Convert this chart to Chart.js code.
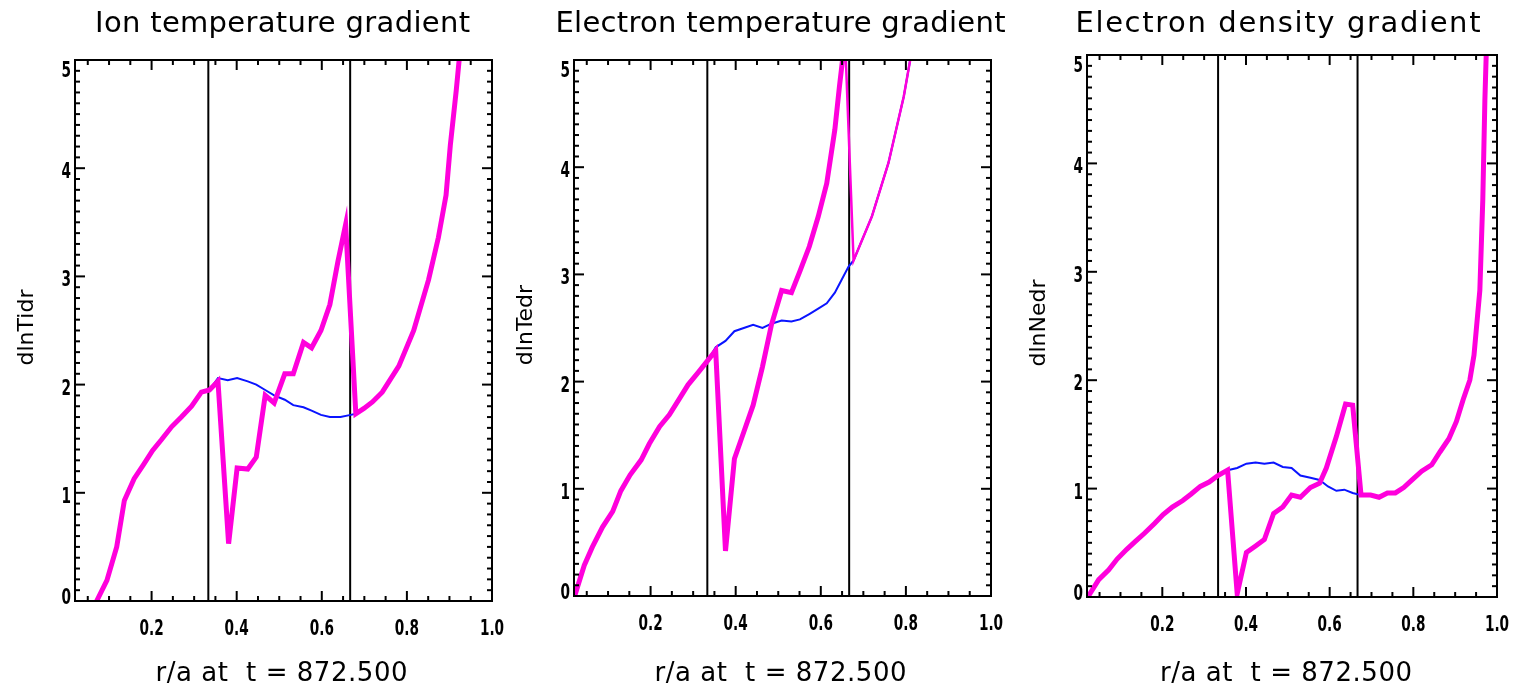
<!DOCTYPE html>
<html>
<head>
<meta charset="utf-8">
<title>Gradients at t = 872.500</title>
<script src="https://cdn.jsdelivr.net/npm/chart.js@4.4.0/dist/chart.umd.min.js"></script>
<style>
  body { margin: 0; background: #fff; width: 1516px; height: 687px; overflow: hidden; position: relative; }
  canvas { position: absolute; top: 0; }
</style>
</head>
<body>
<canvas id="c1" width="510" height="687" style="left:0px"></canvas>
<canvas id="c2" width="500" height="687" style="left:510px"></canvas>
<canvas id="c3" width="506" height="687" style="left:1010px"></canvas>
<script>
// text
let titles = ["Ion temperature gradient", "Electron temperature gradient", "Electron density gradient"];
let yTitles = ["dlnTidr", "dlnTedr", "dlnNedr"];
let xTitle = "r/a at  t = 872.500";

// axes
let xMin = 0.02, xMax = 1.0;
let yMin = 0, yMax = 5;
let xTicks = [0.2, 0.4, 0.6, 0.8, 1.0];
let xTickLabels = ["0.2", "0.4", "0.6", "0.8", "1.0"];
let yTicks = [0, 1, 2, 3, 4, 5];
let yTickLabels = ["0", "1", "2", "3", "4", "5"];
let vLines = [1 / 3, 2 / 3];

// ion temperature gradient
let ionX = [0.045, 0.071, 0.095, 0.118, 0.136, 0.159, 0.181, 0.202, 0.223, 0.247, 0.270, 0.294, 0.317, 0.336, 0.356, 0.381, 0.401, 0.426, 0.446, 0.467, 0.488, 0.513, 0.533, 0.557, 0.576, 0.598, 0.619, 0.638, 0.656, 0.680, 0.699, 0.719, 0.742, 0.781, 0.816, 0.851, 0.874, 0.892, 0.902, 0.916, 0.935];
let ionY = [-0.25, 0.0, 0.19, 0.50, 0.93, 1.13, 1.26, 1.39, 1.49, 1.61, 1.70, 1.80, 1.93, 1.95, 2.03, 0.53, 1.23, 1.22, 1.33, 1.90, 1.83, 2.10, 2.10, 2.39, 2.34, 2.50, 2.74, 3.14, 3.48, 1.73, 1.78, 1.84, 1.93, 2.17, 2.50, 2.97, 3.36, 3.75, 4.21, 4.72, 5.5];
let ionBlueX = [0.336, 0.356, 0.379, 0.401, 0.426, 0.446, 0.467, 0.488, 0.513, 0.533, 0.557, 0.576, 0.598, 0.619, 0.644, 0.668, 0.680];
let ionBlueY = [1.95, 2.06, 2.04, 2.06, 2.03, 2.00, 1.95, 1.90, 1.86, 1.81, 1.79, 1.76, 1.72, 1.70, 1.70, 1.72, 1.73];

// electron temperature gradient
let teX = [0.02, 0.044, 0.063, 0.087, 0.111, 0.130, 0.152, 0.178, 0.197, 0.221, 0.244, 0.266, 0.288, 0.313, 0.335, 0.353, 0.376, 0.397, 0.419, 0.441, 0.463, 0.484, 0.508, 0.531, 0.551, 0.573, 0.594, 0.614, 0.633, 0.644, 0.657];
let teY = [-0.02, 0.285, 0.456, 0.643, 0.79, 0.98, 1.13, 1.27, 1.42, 1.58, 1.69, 1.83, 1.97, 2.09, 2.20, 2.29, 0.42, 1.28, 1.53, 1.78, 2.14, 2.53, 2.85, 2.83, 3.03, 3.26, 3.54, 3.85, 4.35, 4.76, 5.2];
let teThinX = [0.657, 0.677, 0.720, 0.759, 0.795, 0.830];
let teThinY = [5.2, 3.13, 3.54, 4.04, 4.66, 5.45];
let teBlueX = [0.335, 0.353, 0.376, 0.397, 0.419, 0.441, 0.463, 0.484, 0.508, 0.531, 0.551, 0.573, 0.594, 0.614, 0.633, 0.649, 0.665, 0.677, 0.720, 0.759, 0.795, 0.830];
let teBlueY = [2.20, 2.32, 2.38, 2.47, 2.50, 2.53, 2.50, 2.54, 2.57, 2.56, 2.58, 2.63, 2.68, 2.73, 2.83, 2.95, 3.07, 3.13, 3.54, 4.04, 4.66, 5.45];

// electron density gradient
let neX = [0.022, 0.048, 0.072, 0.092, 0.115, 0.135, 0.158, 0.182, 0.202, 0.224, 0.249, 0.269, 0.291, 0.312, 0.333, 0.356, 0.379, 0.401, 0.423, 0.444, 0.466, 0.488, 0.509, 0.530, 0.554, 0.576, 0.592, 0.616, 0.638, 0.655, 0.675, 0.698, 0.718, 0.738, 0.757, 0.777, 0.797, 0.820, 0.844, 0.864, 0.885, 0.903, 0.919, 0.935, 0.945, 0.959, 0.966, 0.971, 0.978];
let neY = [0.0, 0.16, 0.25, 0.35, 0.44, 0.51, 0.59, 0.68, 0.76, 0.83, 0.89, 0.95, 1.02, 1.06, 1.12, 1.17, 0.03, 0.41, 0.47, 0.53, 0.77, 0.83, 0.94, 0.92, 1.01, 1.05, 1.19, 1.48, 1.78, 1.77, 0.94, 0.94, 0.92, 0.96, 0.96, 1.01, 1.08, 1.16, 1.22, 1.34, 1.46, 1.62, 1.82, 2.0, 2.23, 2.83, 3.66, 4.58, 5.5];
let neBlueX = [0.356, 0.379, 0.401, 0.423, 0.444, 0.466, 0.488, 0.509, 0.530, 0.554, 0.576, 0.596, 0.616, 0.635, 0.655, 0.675];
let neBlueY = [1.17, 1.19, 1.23, 1.24, 1.23, 1.24, 1.20, 1.19, 1.12, 1.10, 1.08, 1.02, 0.98, 0.99, 0.96, 0.94];

let pink = "#ff00dc";
let blue = "#0a14ff";

function pts(xs, ys){
  let out = [];
  for(let i = 0; i < xs.length; i++){
    out.push({x: xs[i], y: ys[i]});
  }
  return out;
}

function line(xs, ys, color, width){
  return {data: pts(xs, ys), borderColor: color, borderWidth: width, clip: 0};
}

function vLineSets(){
  return vLines.map(function(v){
    return line([v, v], [yMin - 1, yMax + 1], "#000", 2);
  });
}

// stretch or squeeze letter spacing so the text covers a given width
function spreadText(ctx, text, cx, y, width){
  ctx.letterSpacing = "0px";
  let w = ctx.measureText(text).width;
  let sp = (width - w) / (text.length - 1);
  ctx.letterSpacing = sp + "px";
  ctx.textAlign = "left";
  ctx.fillText(text, cx - width / 2, y);
  ctx.letterSpacing = "0px";
}

function narrowText(ctx, text, x, y, align){
  ctx.save();
  ctx.translate(x, y);
  ctx.scale(0.62, 1);
  ctx.textAlign = align;
  ctx.fillText(text, 0, 0);
  ctx.restore();
}

function seg(ctx, x1, y1, x2, y2){
  ctx.beginPath();
  ctx.moveTo(x1, y1);
  ctx.lineTo(x2, y2);
  ctx.stroke();
}

let frame = {
  id: "frame",
  afterDraw: function(chart, args, opts){
    let ctx = chart.ctx;
    let a = chart.chartArea;
    let xs = chart.scales.x;
    let ys = chart.scales.y;

    ctx.save();
    ctx.strokeStyle = "#000";
    ctx.fillStyle = "#000";
    ctx.lineWidth = 2;
    ctx.strokeRect(a.left, a.top, a.right - a.left, a.bottom - a.top);

    // x ticks every 0.05, long every 0.2, on bottom and top
    for(let k = 1; k < 20; k++){
      let v = k * 0.05;
      if(v <= xs.min) continue;
      let px = xs.getPixelForValue(v);
      let len = k % 4 === 0 ? 10 : 5;
      seg(ctx, px, a.bottom, px, a.bottom - len);
      seg(ctx, px, a.top, px, a.top + len);
    }
    // y ticks every 0.1, long every 1
    for(let k = 1; k < 50; k++){
      let py = ys.getPixelForValue(k * 0.1);
      let len = k % 10 === 0 ? 10 : 5;
      seg(ctx, a.left, py, a.left + len, py);
      seg(ctx, a.right, py, a.right - len, py);
    }

    ctx.font = "bold 22px 'DejaVu Sans'";
    ctx.textBaseline = "alphabetic";
    xTicks.forEach(function(v, i){
      narrowText(ctx, xTickLabels[i], xs.getPixelForValue(v), a.bottom + 34, "center");
    });
    yTicks.forEach(function(v, i){
      let c = ys.getPixelForValue(v) + 2;
      c = Math.max(a.top + 8.5, Math.min(a.bottom - 5, c));
      narrowText(ctx, yTickLabels[i], a.left - 4, c + 8, "right");
    });

    let mid = (a.left + a.right) / 2;
    ctx.font = "29px 'DejaVu Sans'";
    spreadText(ctx, opts.title, mid + opts.titleShift, 32, opts.titleWidth);
    ctx.font = "26px 'DejaVu Sans'";
    spreadText(ctx, xTitle, mid + opts.xTitleShift, 681, 252);

    ctx.font = "22px 'DejaVu Sans'";
    ctx.translate(a.left - opts.yTitleGap, (a.top + a.bottom) / 2 - 3);
    ctx.rotate(-Math.PI / 2);
    ctx.textAlign = "center";
    ctx.fillText(opts.yTitle, 0, 0);
    ctx.restore();
  }
};

let panels = [
  {id: "c1", sets: [line(ionX, ionY, pink, 5), line(ionBlueX, ionBlueY, blue, 2)],
   pad: {left: 75, right: 18, top: 60, bottom: 86}, titleWidth: 375, titleShift: -1, xTitleShift: -2, yTitleGap: 42},
  {id: "c2", sets: [line(teX, teY, pink, 5), line(teThinX, teThinY, pink, 2.5), line(teBlueX, teBlueY, blue, 2)],
   pad: {left: 64, right: 19, top: 60, bottom: 91}, titleWidth: 450, titleShift: -2, xTitleShift: -2, yTitleGap: 42},
  {id: "c3", sets: [line(neX, neY, pink, 5), line(neBlueX, neBlueY, blue, 2)],
   pad: {left: 77, right: 19, top: 55, bottom: 90}, titleWidth: 405, titleShift: -14, xTitleShift: -6, yTitleGap: 42}
];

panels.forEach(function(p, i){
  new Chart(document.getElementById(p.id), {
    type: "line",
    data: {datasets: p.sets.concat(vLineSets())},
    options: {
      responsive: false,
      animation: false,
      devicePixelRatio: 1,
      layout: {padding: p.pad},
      elements: {point: {radius: 0}, line: {tension: 0}},
      scales: {
        x: {type: "linear", min: xMin, max: xMax, display: false},
        y: {type: "linear", min: yMin, max: yMax, display: false}
      },
      plugins: {
        legend: {display: false},
        tooltip: {enabled: false},
        frame: {title: titles[i], yTitle: yTitles[i], titleWidth: p.titleWidth, titleShift: p.titleShift,
                xTitleShift: p.xTitleShift, yTitleGap: p.yTitleGap}
      }
    },
    plugins: [frame]
  });
});
</script>
</body>
</html>
